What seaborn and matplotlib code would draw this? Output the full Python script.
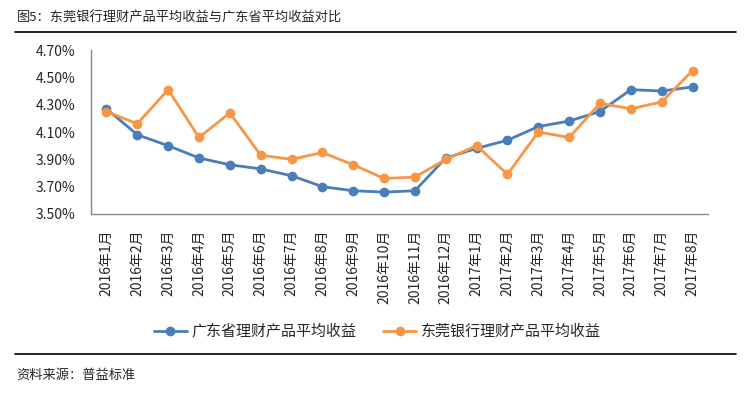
import matplotlib
matplotlib.use("Agg")
import matplotlib.pyplot as plt
import numpy as np
import pandas as pd
import seaborn as sns
from matplotlib.lines import Line2D
from matplotlib.ticker import FixedLocator, PercentFormatter

months = [
    "2016年1月", "2016年2月", "2016年3月", "2016年4月", "2016年5月", "2016年6月",
    "2016年7月", "2016年8月", "2016年9月", "2016年10月", "2016年11月", "2016年12月",
    "2017年1月", "2017年2月", "2017年3月", "2017年4月", "2017年5月", "2017年6月",
    "2017年7月", "2017年8月",
]
guangdong = [4.27, 4.08, 4.00, 3.91, 3.86, 3.83, 3.78, 3.70, 3.67, 3.66, 3.67, 3.91,
             3.98, 4.04, 4.14, 4.18, 4.25, 4.41, 4.40, 4.43]
dongguan = [4.25, 4.16, 4.41, 4.06, 4.24, 3.93, 3.90, 3.95, 3.86, 3.76, 3.77, 3.90,
            4.00, 3.79, 4.10, 4.06, 4.31, 4.27, 4.32, 4.55]
series_names = ["广东省理财产品平均收益", "东莞银行理财产品平均收益"]
y_ticks = [3.5, 3.7, 3.9, 4.1, 4.3, 4.5, 4.7]

df = pd.concat([
    pd.DataFrame({"month": months, "yield": guangdong, "series": series_names[0]}),
    pd.DataFrame({"month": months, "yield": dongguan, "series": series_names[1]}),
])

sns.set_style("white")
plt.rcParams["font.family"] = ["Noto Sans CJK SC", "DejaVu Sans"]

colors = {series_names[0]: "#4A7EBB", series_names[1]: "#F79646"}
axis_gray = "#868686"

fig = plt.figure(figsize=(7.56, 3.97), dpi=100)
ax = fig.add_axes([0.1204, 0.461, 0.8161, 0.413])

sns.lineplot(data=df, x="month", y="yield", hue="series", palette=colors,
             marker="o", markersize=7, markeredgewidth=0, linewidth=2,
             sort=False, legend=False, ax=ax)

ax.set_xlim(-0.5, len(months) - 0.5)
ax.set_ylim(3.5, 4.7)
ax.set_yticks(y_ticks)
ax.yaxis.set_major_formatter(PercentFormatter(decimals=2))
ax.set_xticks(np.arange(len(months)))
ax.set_xticklabels(months, rotation=90, fontsize=10)
ax.xaxis.set_minor_locator(FixedLocator(np.arange(-0.5, len(months), 1)))
ax.tick_params(axis="x", which="major", length=0, pad=11)
ax.tick_params(axis="x", which="minor", length=5, color=axis_gray, width=1, direction="out")
ax.tick_params(axis="y", length=5, color=axis_gray, width=1, direction="out", labelsize=10, pad=6)
ax.set_xlabel("")
ax.set_ylabel("")
for s in ["top", "right"]:
    ax.spines[s].set_visible(False)
for s in ["left", "bottom"]:
    ax.spines[s].set_color(axis_gray)
    ax.spines[s].set_linewidth(1)

handles = [Line2D([0], [0], color=colors[n], marker="o", markersize=7, linewidth=2,
                  markeredgewidth=0) for n in series_names]
fig.legend(handles, series_names, loc="center", bbox_to_anchor=(0.499, 0.165), ncol=2,
           frameon=False, fontsize=10.8, handlelength=2.2, handletextpad=0.3, columnspacing=1.8)

fig.text(0.022, 0.955, "图5：东莞银行理财产品平均收益与广东省平均收益对比", fontsize=9.5,
         va="center", ha="left")
fig.add_artist(Line2D([0.02, 0.973], [0.919, 0.919], color="black", linewidth=1.2))
fig.add_artist(Line2D([0.02, 0.973], [0.108, 0.108], color="black", linewidth=1.2))
fig.text(0.022, 0.055, "资料来源：普益标准", fontsize=9.5, va="center", ha="left")

fig.savefig("out.png", dpi=100)
